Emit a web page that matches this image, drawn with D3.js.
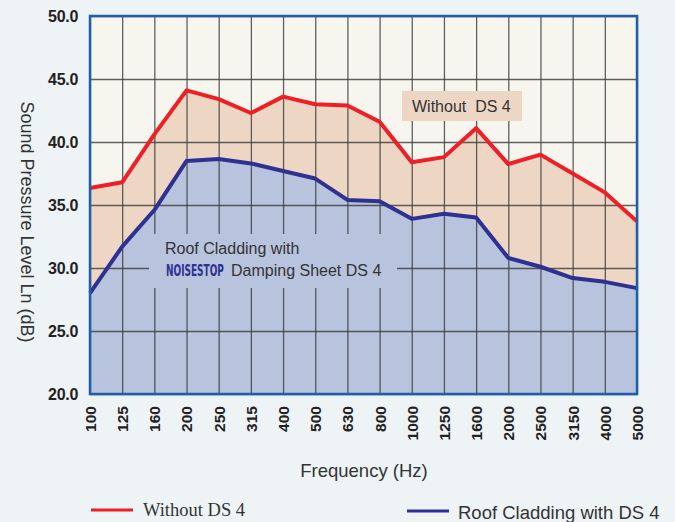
<!DOCTYPE html>
<html>
<head>
<meta charset="utf-8">
<script src="https://cdn.jsdelivr.net/npm/d3@7"></script>
<style>
  html, body { margin: 0; padding: 0; background: #eef3f6; }
  svg { display: block; }
</style>
</head>
<body>
<svg id="chart" width="675" height="522"></svg>
<script>
const frequencies = ["100", "125", "160", "200", "250", "315", "400", "500", "630", "800",
  "1000", "1250", "1600", "2000", "2500", "3150", "4000", "5000"];
const withoutDS4 = [36.35, 36.8, 40.6, 44.1, 43.4, 42.3, 43.6, 43.0, 42.9, 41.6,
  38.4, 38.8, 41.1, 38.25, 39.0, 37.5, 36.0, 33.7];
const withDS4 = [28.0, 31.7, 34.6, 38.5, 38.65, 38.3, 37.7, 37.1, 35.4, 35.3,
  33.9, 34.3, 34.0, 30.8, 30.1, 29.2, 28.9, 28.4];
const yTicks = [20, 25, 30, 35, 40, 45, 50];

const svg = d3.select("#chart");
const margin = { top: 16, right: 38, bottom: 128, left: 90 };
const width = 675 - margin.left - margin.right;
const height = 522 - margin.top - margin.bottom;
const sans = "Liberation Sans, Arial, sans-serif";

const x = d3.scalePoint().domain(frequencies).range([0, width]);
const y = d3.scaleLinear().domain([20, 50]).range([height, 0]);

const g = svg.append("g").attr("transform", `translate(${margin.left},${margin.top})`);

g.append("rect").attr("width", width).attr("height", height).attr("fill", "#f7f6ee");

const area = (values) => d3.area()
  .x((d, i) => x(frequencies[i]))
  .y0(height)
  .y1((d) => y(d))(values);

g.append("path").attr("d", area(withoutDS4)).attr("fill", "#eed6c4");
g.append("path").attr("d", area(withDS4)).attr("fill", "#b8c3de");

// grid
g.append("g")
  .call(d3.axisBottom(x).tickSize(height).tickFormat(""))
  .call((s) => s.select(".domain").remove())
  .selectAll("line").attr("stroke", "#3a3a3a").attr("stroke-opacity", 0.8).attr("stroke-width", 1.3);
g.append("g")
  .call(d3.axisLeft(y).tickValues(yTicks).tickSize(-width).tickFormat(""))
  .call((s) => s.select(".domain").remove())
  .selectAll("line").attr("stroke", "#3a3a3a").attr("stroke-opacity", 0.8).attr("stroke-width", 1.3);

// label boxes covering grid
g.append("rect").attr("x", 59).attr("y", 218).attr("width", 248).attr("height", 54).attr("fill", "#b8c3de");
g.append("rect").attr("x", 312).attr("y", 75).attr("width", 120).attr("height", 30).attr("fill", "#eed6c4");

const line = (values) => d3.line()
  .x((d, i) => x(frequencies[i]))
  .y((d) => y(d))(values);

g.append("path").attr("d", line(withoutDS4)).attr("fill", "none")
  .attr("stroke", "#ee1f26").attr("stroke-width", 4).attr("stroke-linejoin", "round");
g.append("path").attr("d", line(withDS4)).attr("fill", "none")
  .attr("stroke", "#2e3192").attr("stroke-width", 4).attr("stroke-linejoin", "round");

// labels inside plot
g.append("text").attr("x", 322).attr("y", 96)
  .attr("font-family", sans).attr("font-size", 16).attr("fill", "#333")
  .attr("xml:space", "preserve").text("Without  DS 4");

g.append("text").attr("x", 75).attr("y", 238)
  .attr("font-family", sans).attr("font-size", 16).attr("fill", "#333")
  .text("Roof Cladding with");

// condensed logo word, squeezed horizontally to fit before "Damping"
const logo = g.append("text")
  .attr("font-family", "DejaVu Sans Condensed, sans-serif").attr("font-weight", "bold")
  .attr("font-size", 15).attr("fill", "#2e3192")
  .text("NOISESTOP");
const logoLen = logo.node().getComputedTextLength() || 95;
logo.attr("transform", `translate(76,260) scale(${58 / logoLen},1.1)`);

g.append("text").attr("x", 141).attr("y", 260).attr("font-family", sans)
  .attr("font-size", 16).attr("fill", "#333").text("Damping Sheet DS 4");

// border
g.append("rect").attr("width", width).attr("height", height).attr("fill", "none")
  .attr("stroke", "#1d5fac").attr("stroke-width", 2.5);

// axes labels
const yAxis = g.append("g").call(d3.axisLeft(y).tickValues(yTicks).tickSize(0).tickPadding(12).tickFormat(d3.format(".1f")));
yAxis.select(".domain").remove();
yAxis.selectAll("text").attr("font-family", sans).attr("font-weight", "bold")
  .attr("font-size", 16).attr("fill", "#222").attr("letter-spacing", -0.3);

const xAxis = g.append("g").attr("transform", `translate(0,${height})`)
  .call(d3.axisBottom(x).tickSize(0).tickPadding(0));
xAxis.select(".domain").remove();
xAxis.selectAll("text")
  .attr("font-family", sans).attr("font-weight", "bold")
  .attr("font-size", 15.5).attr("fill", "#222")
  .attr("text-anchor", "end").attr("dy", "0.35em")
  .attr("transform", "translate(0,12) rotate(-90)")
  .attr("x", 0).attr("y", 0);

svg.append("text").attr("transform", "translate(21,222) rotate(90)").attr("text-anchor", "middle")
  .attr("font-family", sans).attr("font-size", 18).attr("fill", "#333")
  .text("Sound Pressure Level Ln (dB)");

svg.append("text").attr("x", 364).attr("y", 477).attr("text-anchor", "middle")
  .attr("font-family", sans).attr("font-size", 18.5).attr("fill", "#333")
  .text("Frequency (Hz)");

// legend
svg.append("line").attr("x1", 91).attr("x2", 133).attr("y1", 510).attr("y2", 510)
  .attr("stroke", "#ee1f26").attr("stroke-width", 3);
svg.append("text").attr("x", 143).attr("y", 516)
  .attr("font-family", "Liberation Serif, Times New Roman, serif").attr("font-size", 18.5).attr("fill", "#333")
  .text("Without DS 4");
svg.append("line").attr("x1", 407).attr("x2", 449).attr("y1", 511).attr("y2", 511)
  .attr("stroke", "#2e3192").attr("stroke-width", 3);
svg.append("text").attr("x", 458).attr("y", 519)
  .attr("font-family", sans).attr("font-size", 18.5).attr("fill", "#333")
  .text("Roof Cladding with DS 4");
</script>
</body>
</html>
